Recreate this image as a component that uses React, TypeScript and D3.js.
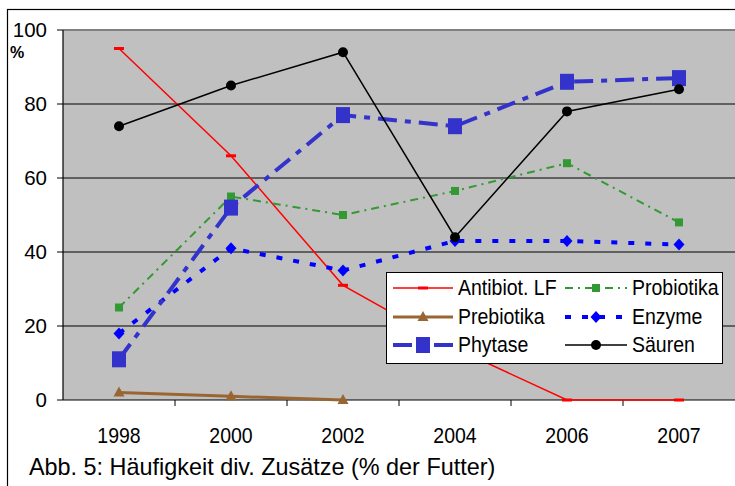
import * as d3 from "d3"

const years = ["1998", "2000", "2002", "2004", "2006", "2007"]
const yTicks = [0, 20, 40, 60, 80, 100]

const antibiotLF = [95, 66, 31, 14, 0, 0]
const probiotika = [25, 55, 50, 56.5, 64, 48]
const prebiotika = [2, 1, 0]
const enzyme = [18, 41, 35, 43, 43, 42]
const phytase = [11, 52, 77, 74, 86, 87]
const saeuren = [74, 85, 94, 44, 78, 84]

type Marker = "dash" | "square" | "triangle" | "diamond" | "bigsquare" | "circle"

interface Series {
  name: string
  values: number[]
  color: string
  width: number
  dash: string
  marker: Marker
}

const series: Series[] = [
  { name: "Antibiot. LF", values: antibiotLF, color: "#ff0000", width: 1.5, dash: "", marker: "dash" },
  { name: "Probiotika", values: probiotika, color: "#339933", width: 2, dash: "8,5,2,5", marker: "square" },
  { name: "Prebiotika", values: prebiotika, color: "#996633", width: 3, dash: "", marker: "triangle" },
  { name: "Enzyme", values: enzyme, color: "#0000ff", width: 4, dash: "6,11", marker: "diamond" },
  { name: "Phytase", values: phytase, color: "#3333cc", width: 4, dash: "19,8,6,8", marker: "bigsquare" },
  { name: "Säuren", values: saeuren, color: "#000000", width: 1.5, dash: "", marker: "circle" },
]

const W = 735
const H = 486
const plot = { left: 63, right: 735, top: 30, bottom: 400 }

const x = d3.scaleBand<string>().domain(years).range([plot.left, plot.right])
const y = d3.scaleLinear().domain([0, 100]).range([plot.bottom, plot.top])
const cx = (i: number) => (x(years[i]) ?? 0) + x.bandwidth() / 2

function markerShape(m: Marker, px: number, py: number, color: string, key?: string | number) {
  switch (m) {
    case "dash":
      return <rect key={key} x={px - 5} y={py - 1.5} width={10} height={3} fill={color} />
    case "square":
      return <rect key={key} x={px - 4} y={py - 4} width={8} height={8} fill={color} />
    case "bigsquare":
      return <rect key={key} x={px - 7} y={py - 8} width={14} height={16} fill={color} />
    case "triangle":
      return <path key={key} d={`M${px},${py - 6}L${px + 5.5},${py + 4}L${px - 5.5},${py + 4}Z`} fill={color} />
    case "diamond":
      return <path key={key} d={`M${px},${py - 6}L${px + 5.5},${py}L${px},${py + 6}L${px - 5.5},${py}Z`} fill={color} />
    case "circle":
      return <circle key={key} cx={px} cy={py} r={5} fill={color} />
  }
}

export default function App() {
  const line = d3
    .line<number>()
    .x((_, i) => cx(i))
    .y((d) => y(d))

  // legend layout
  const legendRows = [288, 317, 345]
  const legendCols = [
    { x0: 393, x1: 453, tx: 458 },
    { x0: 565, x1: 627, tx: 632 },
  ]

  return (
    <svg
      width={W}
      height={H}
      style={{ position: "absolute", left: 0, top: 0, fontFamily: "Liberation Sans, Arial, sans-serif" }}
    >
      <rect x={0} y={0} width={W} height={H} fill="#ffffff" />
      {/* outer chart border */}
      <rect x={7.5} y={9.5} width={W + 10} height={H + 10} fill="none" stroke="#000" strokeWidth={1.2} />

      {/* plot area */}
      <rect x={plot.left} y={plot.top} width={plot.right - plot.left + 5} height={plot.bottom - plot.top} fill="#c0c0c0" />
      <line x1={plot.left} x2={W} y1={plot.top} y2={plot.top} stroke="#808080" strokeWidth={2} />

      {/* grid */}
      {yTicks
        .filter((t) => t > 0 && t < 100)
        .map((t) => (
          <line key={t} x1={plot.left} x2={W} y1={y(t)} y2={y(t)} stroke="#000" strokeWidth={1} />
        ))}

      {/* axes */}
      <line x1={plot.left} x2={plot.left} y1={plot.top} y2={plot.bottom} stroke="#000" strokeWidth={1.2} />
      <line x1={plot.left} x2={W} y1={plot.bottom} y2={plot.bottom} stroke="#000" strokeWidth={1.2} />
      {yTicks.map((t) => (
        <g key={t}>
          <line x1={plot.left - 6} x2={plot.left} y1={y(t)} y2={y(t)} stroke="#000" />
          <text x={47} y={y(t)} dy="0.36em" textAnchor="end" fontSize={20.5} fill="#000">
            {t}
          </text>
        </g>
      ))}
      {years.map((yr, i) =>
        i === 0 ? null : (
          <line key={yr} x1={x(yr)} x2={x(yr)} y1={plot.bottom} y2={plot.bottom + 6} stroke="#000" />
        ),
      )}
      {years.map((yr, i) => (
        <text
          key={yr}
          transform={`translate(${cx(i)},443) scale(1,1.15)`}
          textAnchor="middle"
          fontSize={19.5}
          fill="#000"
        >
          {yr}
        </text>
      ))}
      <text x={10} y={58} fontSize={16} fontWeight="bold" fill="#000">
        %
      </text>

      {/* series */}
      {series.map((s) => (
        <g key={s.name}>
          <path
            d={line(s.values) ?? ""}
            fill="none"
            stroke={s.color}
            strokeWidth={s.width}
            strokeDasharray={s.dash || undefined}
          />
          {s.values.map((v, i) => markerShape(s.marker, cx(i), y(v), s.color, i))}
        </g>
      ))}

      {/* legend */}
      <rect x={386.5} y={272.5} width={336} height={91} fill="#ffffff" stroke="#000" strokeWidth={1} />
      {series.map((s, k) => {
        const col = legendCols[k % 2]
        const ry = legendRows[Math.floor(k / 2)]
        const mid = (col.x0 + col.x1) / 2
        return (
          <g key={s.name}>
            <line
              x1={col.x0}
              x2={col.x1}
              y1={ry}
              y2={ry}
              stroke={s.color}
              strokeWidth={s.width}
              strokeDasharray={s.dash || undefined}
            />
            {markerShape(s.marker, mid, ry, s.color)}
            <text transform={`translate(${col.tx},${ry + 7}) scale(1,1.12)`} fontSize={19.5} fill="#000">
              {s.name}
            </text>
          </g>
        )
      })}

      {/* caption */}
      <text x={29} y={475} fontSize={23.4} fill="#000">
        Abb. 5: Häufigkeit div. Zusätze (% der Futter)
      </text>
    </svg>
  )
}
